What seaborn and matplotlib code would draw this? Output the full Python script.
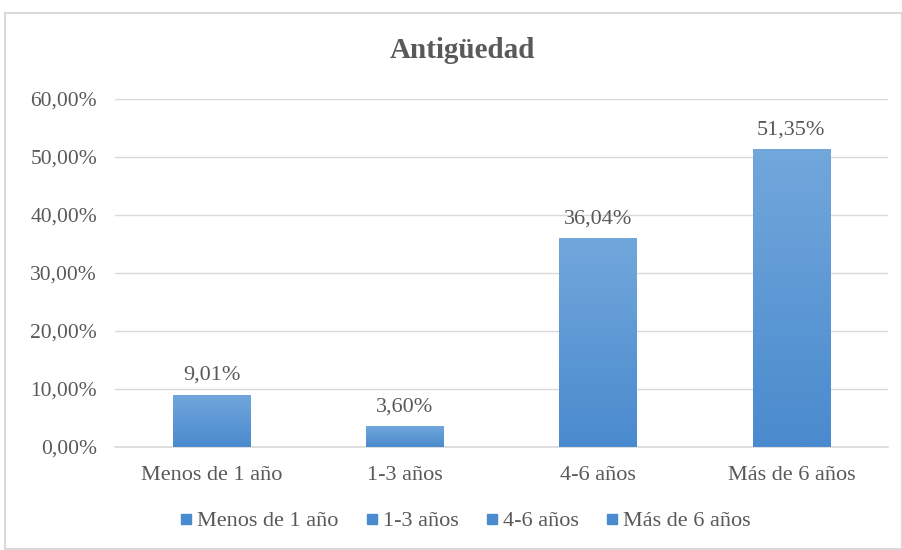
import matplotlib
matplotlib.use('Agg')
import matplotlib.pyplot as plt
import numpy as np
import seaborn as sns
from matplotlib.colors import LinearSegmentedColormap
from matplotlib.lines import Line2D
from matplotlib.patches import Rectangle

# data
categorias = ['Menos de 1 año', '1-3 años', '4-6 años', 'Más de 6 años']
porcentajes = [9.01, 3.60, 36.04, 51.35]
ticks_y = [0, 10, 20, 30, 40, 50, 60]

TEXTO = '#595959'
GRID = '#d9d9d9'
AZUL_TOP = '#72a7dc'
AZUL_BOT = '#4a8ace'

sns.set_theme(style='white')
plt.rcParams['font.family'] = ['Liberation Serif', 'DejaVu Serif']

fig = plt.figure(figsize=(9.02, 5.5), dpi=100)
ax = fig.add_axes([115 / 902, 1 - 447 / 550, (888 - 115) / 902, (447 - 99) / 550])

sns.barplot(x=categorias, y=porcentajes, color=AZUL_BOT, width=0.4, ax=ax,
            saturation=1, zorder=3)

# vertical gradient inside each bar
cmap = LinearSegmentedColormap.from_list('grad', [AZUL_BOT, AZUL_TOP])
grad = np.linspace(0, 1, 256).reshape(-1, 1)
for p in ax.patches:
    x0, y0 = p.get_x(), p.get_y()
    w, h = p.get_width(), p.get_height()
    im = ax.imshow(grad, cmap=cmap, origin='lower', aspect='auto',
                   extent=[x0, x0 + w, y0, y0 + h], zorder=4)
    im.set_clip_path(p)
    p.set_edgecolor('none')

ax.set_xlim(-0.5, len(categorias) - 0.5)
ax.set_ylim(0, 60)
ax.set_yticks(ticks_y)
ax.set_yticklabels([f'{t:.2f}%'.replace('.', ',') for t in ticks_y])
ax.yaxis.grid(True, color=GRID, lw=1, zorder=0)
ax.set_axisbelow(True)

for s in ['top', 'right', 'left']:
    ax.spines[s].set_visible(False)
ax.spines['bottom'].set_color(GRID)
ax.spines['bottom'].set_linewidth(1.2)

ax.tick_params(axis='y', length=0, pad=13, labelsize=15.5, labelcolor=TEXTO)
ax.tick_params(axis='x', length=0, pad=14, labelsize=16, labelcolor=TEXTO)

for i, v in enumerate(porcentajes):
    ax.annotate(f'{v:.2f}%'.replace('.', ','), (i, v), xytext=(0, 7),
                textcoords='offset points', ha='center', va='bottom',
                fontsize=16, color=TEXTO)

fig.text(462 / 902, 1 - 51 / 550, 'Antigüedad', ha='center', va='center',
         fontsize=21, fontweight='bold', color=TEXTO)

handles = [Line2D([], [], marker='s', ls='none', color=AZUL_BOT, markersize=7.5)
           for _ in categorias]
fig.legend(handles, categorias, loc='center', bbox_to_anchor=(464 / 902, 1 - 521 / 550),
           ncol=4, frameon=False, fontsize=16, handletextpad=0.1,
           columnspacing=1.1, handlelength=0.8, labelcolor=TEXTO)

# chart border
fig.patches.append(Rectangle((5 / 902, 1 / 550), 1 - 5 / 902, 1 - 14 / 550,
                             transform=fig.transFigure, fill=False,
                             edgecolor=GRID, lw=1.5))

fig.savefig('out.png', dpi=100)
